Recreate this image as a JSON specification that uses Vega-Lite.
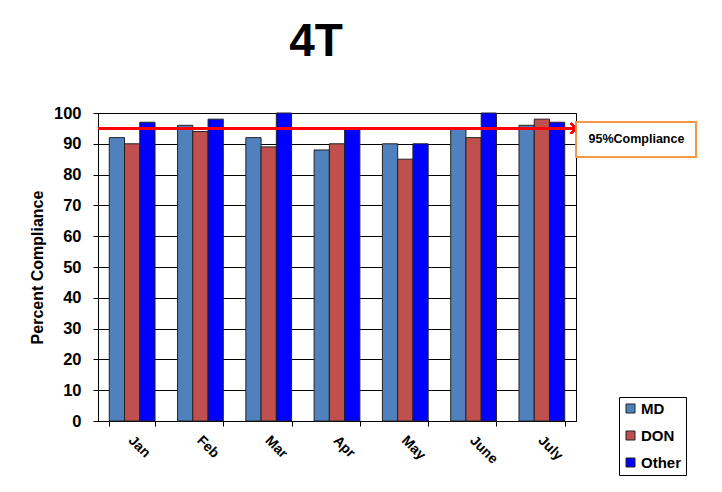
{
  "$schema": "https://vega.github.io/schema/vega-lite/v6.json",
  "width": 478,
  "height": 308,
  "padding": {"left": 29, "top": 19, "right": 5, "bottom": 5},
  "background": "white",
  "title": {"text": "4T", "fontSize": 46, "fontWeight": "bold", "font": "Liberation Sans", "anchor": "middle", "dx": -21, "offset": 39, "color": "black"},
  "config": {
    "font": "Liberation Sans",
    "view": {"stroke": "black", "strokeWidth": 1},
    "axis": {"labelFont": "Liberation Sans", "titleFont": "Liberation Sans", "labelColor": "black", "titleColor": "black", "domainColor": "black", "tickColor": "black"},
    "axisY": {"titleFontSize": 16, "titleFontWeight": "bold", "titlePadding": 8, "labelFontSize": 16.5, "labelFontWeight": "bold", "tickSize": 5, "labelPadding": 12, "grid": true, "gridColor": "black", "gridWidth": 1, "labelOverlap": false}
  },
  "data": {
    "values": [
      {"month": "Jan", "series": "MD", "value": 92},
      {"month": "Jan", "series": "DON", "value": 90},
      {"month": "Jan", "series": "Other", "value": 97},
      {"month": "Feb", "series": "MD", "value": 96},
      {"month": "Feb", "series": "DON", "value": 94},
      {"month": "Feb", "series": "Other", "value": 98},
      {"month": "Mar", "series": "MD", "value": 92},
      {"month": "Mar", "series": "DON", "value": 89},
      {"month": "Mar", "series": "Other", "value": 100},
      {"month": "Apr", "series": "MD", "value": 88},
      {"month": "Apr", "series": "DON", "value": 90},
      {"month": "Apr", "series": "Other", "value": 95},
      {"month": "May", "series": "MD", "value": 90},
      {"month": "May", "series": "DON", "value": 85},
      {"month": "May", "series": "Other", "value": 90},
      {"month": "June", "series": "MD", "value": 95},
      {"month": "June", "series": "DON", "value": 92},
      {"month": "June", "series": "Other", "value": 100},
      {"month": "July", "series": "MD", "value": 96},
      {"month": "July", "series": "DON", "value": 98},
      {"month": "July", "series": "Other", "value": 97}
    ]
  },
  "layer": [
    {
      "mark": {"type": "bar", "stroke": "#222222", "strokeWidth": 1},
      "encoding": {
        "x": {
          "field": "month", "type": "nominal",
          "sort": ["Jan", "Feb", "Mar", "Apr", "May", "June", "July"],
          "scale": {"paddingInner": 0.33, "paddingOuter": 0.165},
          "axis": {"title": null, "labelAngle": 45, "labelFontSize": 14, "labelFontWeight": "bold", "tickBand": "extent", "tickSize": 5, "grid": false, "labelPadding": 7, "labelOffset": 3}
        },
        "xOffset": {
          "field": "series", "type": "nominal",
          "sort": ["MD", "DON", "Other"],
          "scale": {"paddingInner": 0, "paddingOuter": 0}
        },
        "y": {
          "field": "value", "type": "quantitative",
          "scale": {"domain": [0, 100], "nice": false},
          "axis": {"title": "Percent Compliance", "values": [0, 10, 20, 30, 40, 50, 60, 70, 80, 90, 100]}
        },
        "fill": {
          "field": "series", "type": "nominal",
          "scale": {"domain": ["MD", "DON", "Other"], "range": ["#4F81BD", "#C0504D", "#0000FF"]},
          "legend": {"title": null, "orient": "none", "legendX": 521, "legendY": 284, "symbolType": "square", "symbolSize": 81, "symbolStrokeColor": "#222222", "symbolStrokeWidth": 1, "labelFontSize": 15, "labelFontWeight": "bold", "labelColor": "black", "labelOffset": 3, "rowPadding": 11, "padding": 4, "strokeColor": "black", "fillColor": "white"}
        }
      }
    },
    {
      "mark": {"type": "rule", "strokeWidth": 1.5},
      "encoding": {
        "y": {"datum": 95, "type": "quantitative", "axis": {"title": "Percent Compliance", "values": [0, 10, 20, 30, 40, 50, 60, 70, 80, 90, 100]}},
        "stroke": {
          "datum": "95%Compliance",
          "scale": {"range": ["#FF0000"]},
          "legend": {"title": null, "orient": "none", "legendX": 478, "legendY": 9, "symbolSize": 1, "symbolOpacity": 0, "labelOffset": -11, "labelFontSize": 12.5, "labelFontWeight": "bold", "labelColor": "black", "padding": 11, "strokeColor": "#F79646", "fillColor": "white", "encode": {"legend": {"update": {"strokeWidth": {"value": 2}}}}}
        }
      }
    },
    {
      "mark": {"type": "point", "shape": "M-1,-1L0,0L-1,1", "filled": false, "size": 100, "strokeWidth": 1.5, "opacity": 1},
      "encoding": {
        "x": {"value": "width"},
        "y": {"datum": 95, "type": "quantitative", "axis": {"title": "Percent Compliance", "values": [0, 10, 20, 30, 40, 50, 60, 70, 80, 90, 100]}},
        "stroke": {"datum": "95%Compliance"}
      }
    }
  ]
}
